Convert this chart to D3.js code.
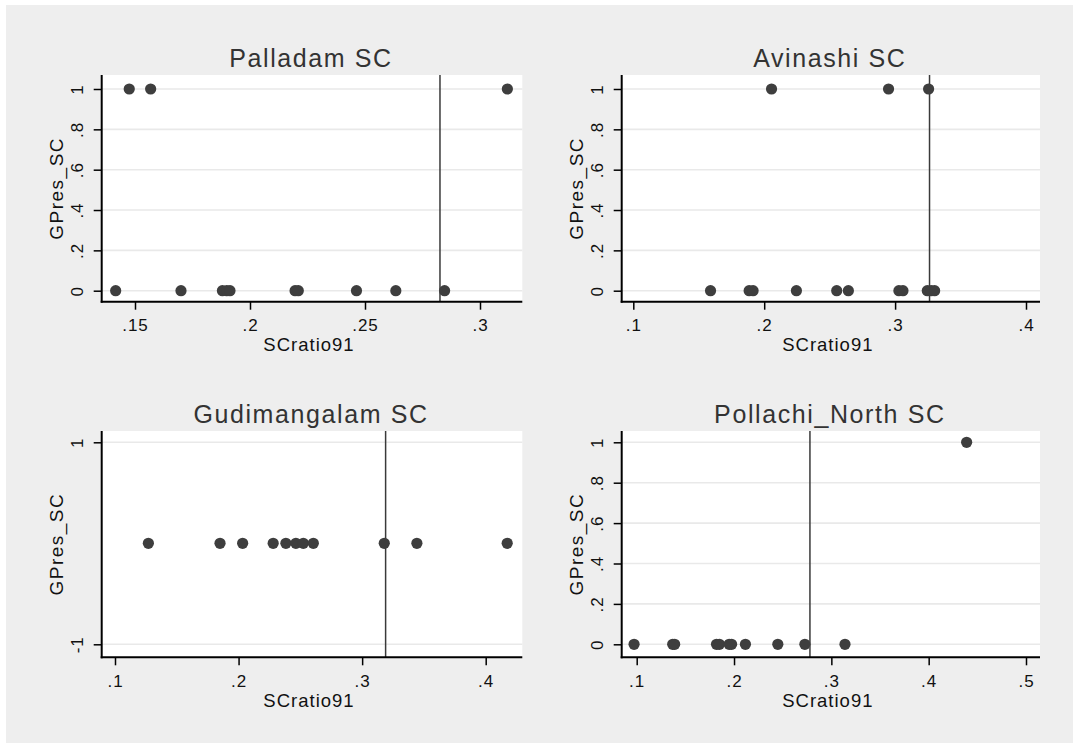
<!DOCTYPE html>
<html><head><meta charset="utf-8">
<script src="https://cdn.jsdelivr.net/npm/d3@7"></script>
<style>html,body{margin:0;padding:0;background:#fff;}svg{display:block;font-family:"Liberation Sans",Arial,sans-serif;}</style>
</head><body><svg id="c" width="1079" height="748"></svg>
<script>
// ---- data ----
const titles = ["Palladam SC", "Avinashi SC", "Gudimangalam SC", "Pollachi_North SC"];
const xLabel = "SCratio91";
const yLabel = "GPres_SC";

const palladamX = [0.1475, 0.1568, 0.3119, 0.1416, 0.1700, 0.1880, 0.1899, 0.1913, 0.2196, 0.2210, 0.2463, 0.2634, 0.2846];
const palladamY = [1, 1, 1, 0, 0, 0, 0, 0, 0, 0, 0, 0, 0];

const avinashiX = [0.2056, 0.2950, 0.3256, 0.1590, 0.1885, 0.1915, 0.2246, 0.2554, 0.2643, 0.3029, 0.3060, 0.3246, 0.3275, 0.3302];
const avinashiY = [1, 1, 1, 0, 0, 0, 0, 0, 0, 0, 0, 0, 0, 0];

const gudimangalamX = [0.1270, 0.1850, 0.2033, 0.2280, 0.2383, 0.2464, 0.2524, 0.2605, 0.3179, 0.3443, 0.4174];
const gudimangalamY = [0, 0, 0, 0, 0, 0, 0, 0, 0, 0, 0];

const pollachiX = [0.4390, 0.0973, 0.1370, 0.1390, 0.1820, 0.1850, 0.1950, 0.1975, 0.2117, 0.2450, 0.2728, 0.3140];
const pollachiY = [1, 0, 0, 0, 0, 0, 0, 0, 0, 0, 0, 0];

const refLines = [0.2826, 0.3263, 0.3190, 0.2780];

const xTicks = [[0.15, 0.2, 0.25, 0.3], [0.1, 0.2, 0.3, 0.4], [0.1, 0.2, 0.3, 0.4], [0.1, 0.2, 0.3, 0.4, 0.5]];
const yTicks = [[0, 0.2, 0.4, 0.6, 0.8, 1], [0, 0.2, 0.4, 0.6, 0.8, 1], [-1, 1], [0, 0.2, 0.4, 0.6, 0.8, 1]];

// ---- layout ----
const xs = [palladamX, avinashiX, gudimangalamX, pollachiX];
const ys = [palladamY, avinashiY, gudimangalamY, pollachiY];
const cols = [{l: 101.7, r: 522.3}, {l: 621.7, r: 1040}];
const rows = [{t: 75, b: 301.7}, {t: 431, b: 657.3}];
// pixel anchors for first/last tick of each panel's axes
const xRange = [[135, 480], [633.3, 1026], [115, 485.7], [636.7, 1026]];
const yRange = [[290.7, 89], [290.7, 89], [644.3, 442.3], [644.3, 442.3]];

const fmt = d => {
  if (d === 0) return "0";
  let s = String(d);
  return s.replace(/^0\./, ".").replace(/^-0\./, "-.");
};

const svg = d3.select("#c");
svg.append("rect").attr("x", 6).attr("y", 5).attr("width", 1067).attr("height", 738).attr("fill", "#eeeeee");

titles.forEach((title, i) => {
  const col = cols[i % 2], row = rows[Math.floor(i / 2)];
  const xt = xTicks[i], yt = yTicks[i];
  const x = d3.scaleLinear().domain([xt[0], xt[xt.length - 1]]).range(xRange[i]);
  const y = d3.scaleLinear().domain([yt[0], yt[yt.length - 1]]).range(yRange[i]);
  const g = svg.append("g");

  g.append("rect").attr("x", col.l).attr("y", row.t).attr("width", col.r - col.l).attr("height", row.b - row.t).attr("fill", "#ffffff");

  // gridlines
  g.selectAll(".grid").data(yt).join("line")
    .attr("x1", col.l).attr("x2", col.r)
    .attr("y1", d => y(d)).attr("y2", d => y(d))
    .attr("stroke", "#e9e9e9").attr("stroke-width", 1.6);

  // reference line
  g.append("line").attr("x1", x(refLines[i])).attr("x2", x(refLines[i]))
    .attr("y1", row.t).attr("y2", row.b).attr("stroke", "#3a3a3a").attr("stroke-width", 1.5);

  // points
  g.selectAll(".pt").data(xs[i].map((v, k) => [v, ys[i][k]])).join("circle")
    .attr("cx", d => x(d[0])).attr("cy", d => y(d[1])).attr("r", 5.6)
    .attr("fill", "#3e3e3e");

  // x axis
  const xa = g.append("g").attr("transform", `translate(0,${row.b})`)
    .call(d3.axisBottom(x).tickValues(xt).tickFormat(fmt).tickSize(8).tickPadding(4).tickSizeOuter(0));
  xa.select(".domain").remove();
  xa.selectAll(".tick line").attr("stroke", "#000").attr("stroke-width", 1.5);
  xa.selectAll(".tick text").attr("font-size", 17).attr("fill", "#111").attr("dy", null).attr("y", 29.5)
    .attr("letter-spacing", "1px").attr("font-family", "Liberation Sans, Arial, sans-serif");
  g.append("line").attr("x1", col.l - 1).attr("x2", col.r).attr("y1", row.b).attr("y2", row.b).attr("stroke", "#000").attr("stroke-width", 2);

  // y axis
  const ya = g.append("g").attr("transform", `translate(${col.l},0)`)
    .call(d3.axisLeft(y).tickValues(yt).tickFormat(fmt).tickSize(8).tickSizeOuter(0));
  ya.select(".domain").remove();
  ya.selectAll(".tick line").attr("stroke", "#000").attr("stroke-width", 1.5);
  ya.selectAll(".tick text").attr("font-size", 17).attr("fill", "#111")
    .attr("x", null).attr("dy", null).attr("text-anchor", "middle")
    .attr("transform", "translate(-18.4,0) rotate(-90)").attr("letter-spacing", "1px")
    .attr("font-family", "Liberation Sans, Arial, sans-serif");
  g.append("line").attr("x1", col.l).attr("x2", col.l).attr("y1", row.t).attr("y2", row.b + 1).attr("stroke", "#000").attr("stroke-width", 2);

  // axis titles
  g.append("text").attr("x", (col.l + col.r) / 2 - 3).attr("y", row.b + 49.5)
    .attr("text-anchor", "middle").attr("font-size", 18.5).attr("letter-spacing", "1px").attr("fill", "#111").text(xLabel);
  g.append("text").attr("transform", `translate(${col.l - 39},${(row.t + row.b) / 2}) rotate(-90)`)
    .attr("text-anchor", "middle").attr("font-size", 19).attr("letter-spacing", "1.5px").attr("fill", "#111").text(yLabel);

  // panel title
  g.append("text").attr("x", (col.l + col.r) / 2 - 1).attr("y", row.t - 8.5)
    .attr("text-anchor", "middle").attr("font-size", 25).attr("letter-spacing", "1.6px").attr("fill", "#333").text(title);
});
</script></body></html>
